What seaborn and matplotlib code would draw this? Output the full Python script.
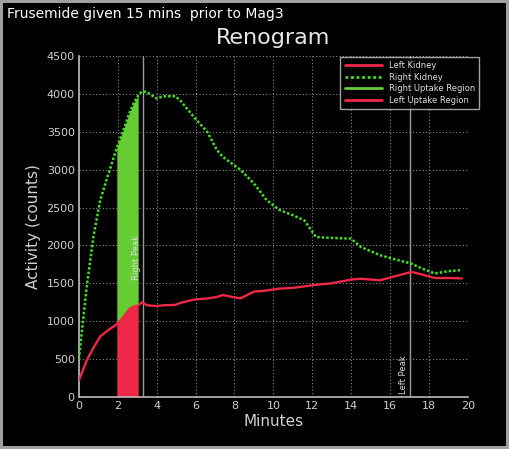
import numpy as np
import pandas as pd
import seaborn as sns
import matplotlib.pyplot as plt
from matplotlib.lines import Line2D

# renogram curves (minutes, counts)
minutes = [0, 0.4, 0.75, 1.1, 1.5, 1.95, 2.3, 2.6, 2.8, 3.05, 3.25, 3.5,
           4.0, 4.35, 4.95, 5.2, 5.9, 6.6, 7.1, 7.4, 8.3, 9.0, 9.65, 10.3,
           11.0, 11.6, 12.2, 13.0, 14.0, 14.5, 15.5, 16.5, 17.1, 17.6,
           18.3, 19.0, 19.7]
right_kidney = [500, 1450, 2120, 2600, 2930, 3290, 3530, 3750, 3870, 3980,
                4035, 4025, 3940, 3970, 3970, 3920, 3700, 3500, 3260, 3170,
                3000, 2820, 2600, 2470, 2400, 2330, 2110, 2100, 2090, 1980,
                1870, 1800, 1760, 1700, 1630, 1660, 1675]
left_kidney = [220, 480, 650, 800, 880, 960, 1060, 1160, 1190, 1210,
               1250, 1210, 1200, 1210, 1215, 1240, 1285, 1300, 1320, 1345,
               1300, 1390, 1405, 1430, 1440, 1460, 1480, 1500, 1550, 1560,
               1540, 1610, 1650, 1620, 1570, 1570, 1565]
uptake_start, uptake_end = 1.95, 3.05
right_peak, left_peak = 3.3, 17.05

df = pd.DataFrame({"minutes": minutes,
                   "right": right_kidney,
                   "left": left_kidney})

sns.set_style("dark", {"axes.facecolor": "black", "figure.facecolor": "black",
                       "grid.color": "#9a9a9a", "grid.linestyle": ":",
                       "axes.edgecolor": "#bbbbbb", "text.color": "#e0e0e0",
                       "xtick.color": "#d0d0d0", "ytick.color": "#d0d0d0",
                       "axes.labelcolor": "#d0d0d0"})
plt.rcParams["font.family"] = ["DejaVu Sans"]

fig = plt.figure(figsize=(5.09, 4.49), dpi=100)
fig.patch.set_edgecolor("#a0a0a0")
fig.patch.set_linewidth(3)
ax = fig.add_axes([0.155, 0.116, 0.764, 0.759])

red = "#ee2846"
green = "#66cc33"

# uptake regions
mask = (df["minutes"] >= uptake_start) & (df["minutes"] <= uptake_end)
ax.fill_between(df["minutes"], 0, df["left"], where=mask, color=red,
                linewidth=0, zorder=2)
ax.fill_between(df["minutes"], df["left"], df["right"], where=mask,
                color=green, linewidth=0, zorder=2)

sns.lineplot(data=df, x="minutes", y="left", color=red, linewidth=1.7,
             ax=ax, zorder=3)
sns.lineplot(data=df, x="minutes", y="right", color="#44dd22",
             linewidth=1.8, linestyle=(0, (1, 0.8)), ax=ax, zorder=3)

# peak markers
ax.axvline(right_peak, color="#9a9a9a", linewidth=1, zorder=1)
ax.axvline(left_peak, color="#9a9a9a", linewidth=1, zorder=1)
ax.text(right_peak - 0.12, 1550, "Right Peak", rotation=90, fontsize=6,
        color="#dddddd", ha="right", va="bottom", zorder=4)
ax.text(left_peak - 0.12, 40, "Left Peak", rotation=90, fontsize=6,
        color="#dddddd", ha="right", va="bottom", zorder=4)

ax.set_xlim(0, 20)
ax.set_ylim(0, 4500)
ax.set_xticks(np.arange(0, 21, 2))
ax.set_yticks(np.arange(0, 4501, 500))
ax.tick_params(labelsize=8, length=3, direction="in", pad=3)
ax.grid(True, color="#8a8a8a", linestyle=(0, (1, 2)), linewidth=0.8)
ax.set_xlabel("Minutes", fontsize=11, labelpad=2)
ax.set_ylabel("Activity (counts)", fontsize=11, labelpad=4)
for side in ["top", "right"]:
    ax.spines[side].set_visible(False)
for side in ["left", "bottom"]:
    ax.spines[side].set_color("#bbbbbb")
    ax.spines[side].set_linewidth(1.2)

handles = [Line2D([], [], color=red, linewidth=2),
           Line2D([], [], color="#44dd22", linewidth=2, linestyle=(0, (1, 1))),
           Line2D([], [], color=green, linewidth=2),
           Line2D([], [], color=red, linewidth=2)]
labels = ["Left Kidney", "Right Kidney", "Right Uptake Region",
          "Left Uptake Region"]
leg = ax.legend(handles, labels, loc="upper right", fontsize=6,
                frameon=True, fancybox=False, facecolor="black",
                edgecolor="#cccccc", labelcolor="#dddddd",
                handlelength=4.5, borderpad=0.5, labelspacing=0.3,
                bbox_to_anchor=(1.04, 1.01))
leg.get_frame().set_linewidth(1)

fig.text(0.014, 0.968, "Frusemide given 15 mins  prior to Mag3",
         fontsize=10, color="white", ha="left", va="center")
fig.text(0.536, 0.916, "Renogram", fontsize=16, color="#e8e8e8",
         ha="center", va="center")

fig.savefig("out.png", dpi=100, facecolor=fig.get_facecolor(),
            edgecolor=fig.get_edgecolor())
